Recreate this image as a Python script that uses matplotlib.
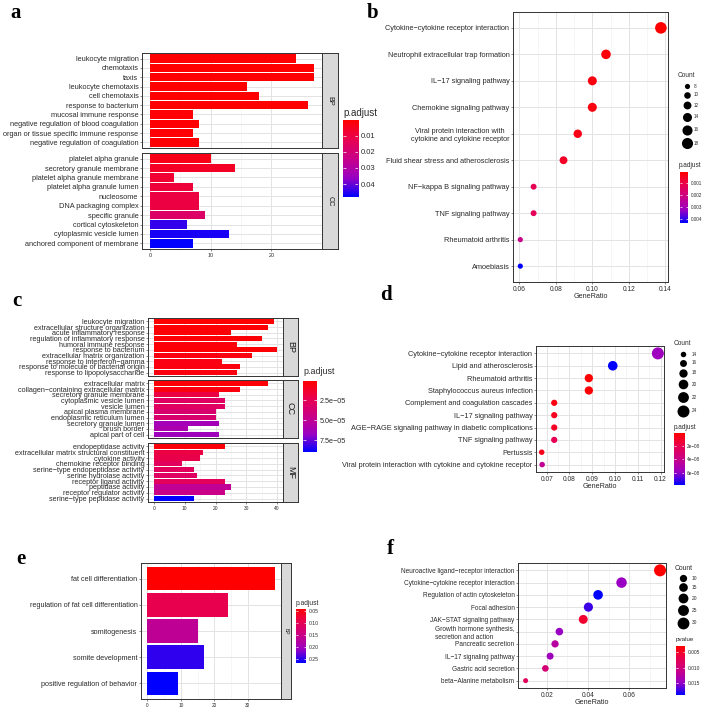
import numpy as np
import matplotlib
matplotlib.use('Agg')
import matplotlib.pyplot as plt
from matplotlib.colors import LinearSegmentedColormap, Normalize

W, H = 708, 712
plt.rcParams['font.family'] = ['Liberation Sans', 'DejaVu Sans']

# ---------------- data ----------------
# a: GO enrichment (BP / CC facets)
a_bp_terms = ['leukocyte migration', 'chemotaxis', 'taxis', 'leukocyte chemotaxis',
              'cell chemotaxis', 'response to bacterium', 'mucosal immune response',
              'negative regulation of blood coagulation',
              'organ or tissue specific immune response',
              'negative regulation of coagulation']
a_bp_count = [24, 27, 27, 16, 18, 26, 7, 8, 7, 8]
a_bp_padj = [0.0004, 0.0003, 0.0003, 0.0006, 0.0005, 0.0004, 0.0012, 0.0010, 0.0012, 0.0010]
a_cc_terms = ['platelet alpha granule', 'secretory granule membrane',
              'platelet alpha granule membrane', 'platelet alpha granule lumen',
              'nucleosome', 'DNA packaging complex', 'specific granule',
              'cortical cytoskeleton', 'cytoplasmic vesicle lumen',
              'anchored component of membrane']
a_cc_count = [10, 14, 4, 7, 8, 8, 9, 6, 13, 7]
a_cc_padj = [0.004, 0.006, 0.008, 0.009, 0.010, 0.010, 0.017, 0.044, 0.046, 0.048]

# b: KEGG dot plot
b_terms = ['Cytokine\u2212cytokine receptor interaction', 'Neutrophil extracellular trap formation',
           'IL\u221217 signaling pathway', 'Chemokine signaling pathway',
           'Viral protein interaction with\ncytokine and cytokine receptor',
           'Fluid shear stress and atherosclerosis', 'NF\u2212kappa B signaling pathway',
           'TNF signaling pathway', 'Rheumatoid arthritis', 'Amoebiasis']
b_ratio = [0.1376, 0.1075, 0.1000, 0.1000, 0.0920, 0.0842, 0.0678, 0.0678, 0.0605, 0.0605]
b_count = [19, 15, 14, 14, 13, 12, 9, 9, 8, 8]
b_padj = [0.0001, 0.0002, 0.0003, 0.0003, 0.0004, 0.0006, 0.0012, 0.0013, 0.0022, 0.0043]

# c: GO enrichment (BP / CC / MF facets)
c_bp_terms = ['leukocyte migration', 'extracellular structure organization',
              'acute inflammatory response', 'regulation of inflammatory response',
              'humoral immune response', 'response to bacterium',
              'extracellular matrix organization', 'response to interferon\u2212gamma',
              'response to molecule of bacterial origin', 'response to lipopolysaccharide']
c_bp_count = [39, 37, 25, 35, 27, 40, 32, 22, 28, 27]
c_bp_padj = [0.1e-5, 0.2e-5, 0.3e-5, 0.3e-5, 0.4e-5, 0.2e-5, 0.5e-5, 0.6e-5, 0.5e-5, 0.5e-5]
c_cc_terms = ['extracellular matrix', 'collagen\u2212containing extracellular matrix',
              'secretory granule membrane', 'cytoplasmic vesicle lumen', 'vesicle lumen',
              'apical plasma membrane', 'endoplasmic reticulum lumen',
              'secretory granule lumen', 'brush border', 'apical part of cell']
c_cc_count = [37, 28, 21, 23, 23, 20, 20, 21, 11, 21]
c_cc_padj = [0.3e-5, 0.5e-5, 2.0e-5, 3.0e-5, 3.0e-5, 3.5e-5, 3.5e-5, 6.3e-5, 6.0e-5, 6.5e-5]
c_mf_terms = ['endopeptidase activity', 'extracellular matrix structural constituent',
              'cytokine activity', 'chemokine receptor binding',
              'serine\u2212type endopeptidase activity', 'serine hydrolase activity',
              'receptor ligand activity', 'peptidase activity',
              'receptor regulator activity', 'serine\u2212type peptidase activity']
c_mf_count = [23, 16, 15, 9, 13, 14, 23, 25, 23, 13]
c_mf_padj = [0.4e-5, 2.0e-5, 2.2e-5, 2.8e-5, 2.8e-5, 3.0e-5, 2.8e-5, 5.0e-5, 4.5e-5, 9.0e-5]

# d: KEGG dot plot
d_terms = ['Cytokine\u2212cytokine receptor interaction', 'Lipid and atherosclerosis',
           'Rheumatoid arthritis', 'Staphylococcus aureus infection',
           'Complement and coagulation cascades', 'IL\u221217 signaling pathway',
           'AGE\u2212RAGE signaling pathway in diabetic complications',
           'TNF signaling pathway', 'Pertussis',
           'Viral protein interaction with cytokine and cytokine receptor']
d_ratio = [0.1188, 0.0990, 0.0885, 0.0885, 0.0733, 0.0733, 0.0733, 0.0733, 0.0678, 0.0680]
d_count = [24, 20, 18, 18, 15, 15, 15, 15, 14, 14]
d_padj = [5.7e-8, 7.8e-8, 0.1e-8, 0.2e-8, 0.5e-8, 0.8e-8, 1.0e-8, 2.2e-8, 0.7e-8, 4.3e-8]

# e: GO enrichment (BP only)
e_terms = ['fat cell differentiation', 'regulation of fat cell differentiation',
           'somitogenesis', 'somite development', 'positive regulation of behavior']
e_count = [38, 24, 15, 17, 9]
e_padj = [0.042, 0.098, 0.166, 0.250, 0.267]

# f: KEGG dot plot (pvalue)
f_terms = ['Neuroactive ligand\u2212receptor interaction', 'Cytokine\u2212cytokine receptor interaction',
           'Regulation of actin cytoskeleton', 'Focal adhesion', 'JAK\u2212STAT signaling pathway',
           'Growth hormone synthesis,\nsecretion and action', 'Pancreatic secretion',
           'IL\u221217 signaling pathway', 'Gastric acid secretion', 'beta\u2212Alanine metabolism']
f_ratio = [0.0750, 0.0563, 0.0449, 0.0402, 0.0377, 0.0261, 0.0240, 0.0216, 0.0193, 0.0097]
f_count = [31, 23, 19, 17, 16, 11, 10, 9, 8, 4]
f_pval = [0.0030, 0.0149, 0.0189, 0.0173, 0.0054, 0.0149, 0.0125, 0.0144, 0.0094, 0.0078]

# ---------------- helpers ----------------
cmap = LinearSegmentedColormap.from_list('r2b', ['#FF0000', '#E80050', '#C90088', '#9A00C3', '#0000FF'])
TXT = '#2b2b2b'
fig = plt.figure(figsize=(W / 100, H / 100), dpi=100)


def px_axes(l, t, r, b):
    return fig.add_axes([l / W, 1 - b / H, (r - l) / W, (b - t) / H])


def frame(ax, tfs):
    for s in ax.spines.values():
        s.set_color('#333333')
        s.set_linewidth(0.7)
    ax.tick_params(length=1.6, width=0.4, color='#333333', pad=1, labelsize=tfs, labelcolor=TXT)


def grid(ax, xticks, minor):
    ax.set_xticks(xticks)
    ax.set_xticks(minor, minor=True)
    ax.tick_params(which='minor', length=0)
    ax.grid(True, which='major', color='#E3E3E3', lw=0.7)
    ax.grid(True, which='minor', axis='x', color='#EFEFEF', lw=0.4)
    ax.set_axisbelow(True)


def bar_facet(box, terms, counts, pvals, norm, xlim, xticks, fs, xfs, show_x):
    ax = px_axes(*box)
    y = np.arange(len(terms))
    ax.barh(y, counts, height=0.9, color=cmap(norm(np.array(pvals))), zorder=2)
    ax.set_ylim(len(terms) - 0.4, -0.6)
    ax.set_xlim(*xlim)
    ax.set_yticks(y, terms)
    grid(ax, xticks, np.array(xticks[:-1]) + (xticks[1] - xticks[0]) / 2)
    frame(ax, xfs)
    ax.tick_params(axis='y', labelsize=fs)
    if not show_x:
        ax.tick_params(axis='x', labelbottom=False, length=0)
    return ax


def strip(box, label, fs):
    ax = px_axes(*box)
    ax.set_facecolor('#D9D9D9')
    ax.set_xticks([])
    ax.set_yticks([])
    frame(ax, fs)
    ax.text(0.5, 0.5, label, rotation=-90, ha='center', va='center', fontsize=fs,
            color='#1A1A1A', transform=ax.transAxes)


def colorbar(box, pvals, ticks, labels, fs):
    vmin, vmax = min(pvals), max(pvals)
    ax = px_axes(*box)
    grad = np.linspace(vmin, vmax, 256)[:, None]
    ax.imshow(grad, aspect='auto', cmap=cmap, norm=Normalize(vmin, vmax), extent=[0, 1, vmax, vmin])
    ax.set_xlim(0, 1)
    ax.set_ylim(vmax, vmin)
    ax.set_xticks([])
    ax.set_yticks(ticks, labels)
    ax.yaxis.tick_right()
    ax.tick_params(length=0, labelsize=fs, pad=2, labelcolor=TXT)
    ax.hlines(ticks, 0, 0.2, color='white', lw=0.5)
    ax.hlines(ticks, 0.8, 1, color='white', lw=0.5)
    for s in ax.spines.values():
        s.set_visible(False)


def diam(c, cref, dref):
    # ggplot-like area scale: diameter linear in sqrt(count)
    c = np.sqrt(np.asarray(c, float))
    lo, hi = np.sqrt(cref[0]), np.sqrt(cref[1])
    return dref[0] + (c - lo) / (hi - lo) * (dref[1] - dref[0])


def dot_panel(box, terms, ratio, counts, pvals, xlim, xticks, xlabels, minor, cref, dref, fs, xfs):
    ax = px_axes(*box)
    y = np.arange(len(terms))
    norm = Normalize(min(pvals), max(pvals))
    d = diam(counts, cref, dref)
    ax.scatter(ratio, y, s=(d * 0.72) ** 2, c=cmap(norm(np.array(pvals))), linewidths=0, zorder=3)
    ax.set_ylim(len(terms) - 0.4, -0.6)
    ax.set_xlim(*xlim)
    ax.set_yticks(y, terms)
    grid(ax, xticks, minor)
    ax.set_xticks(xticks, xlabels)
    frame(ax, xfs)
    ax.tick_params(axis='y', labelsize=fs)
    ax.set_xlabel('GeneRatio', fontsize=xfs + 0.4, color=TXT, labelpad=0.5)
    return ax


def size_legend(ov, x, y0, values, cref, dref, gap, lx, fs):
    d = diam(values, cref, dref)
    y = y0
    for i, v in enumerate(values):
        ov.scatter([x], [y], s=(d[i] * 0.72) ** 2, color='black', linewidths=0)
        ov.text(lx, y, str(v), fontsize=fs, va='center', color=TXT)
        if i < len(values) - 1:
            y += (d[i] + d[i + 1]) / 2 + gap


ov = fig.add_axes([0, 0, 1, 1])
ov.set_xlim(0, W)
ov.set_ylim(H, 0)
ov.axis('off')
ov.set_zorder(5)

# ---------------- panel a ----------------
norm_a = Normalize(min(a_bp_padj + a_cc_padj), max(a_bp_padj + a_cc_padj))
xl_a = (-1.35, 28.35)
bar_facet((142, 53, 322, 148), a_bp_terms, a_bp_count, a_bp_padj, norm_a, xl_a, [0, 10, 20], 5.3, 3.9, False)
bar_facet((142, 153, 322, 249), a_cc_terms, a_cc_count, a_cc_padj, norm_a, xl_a, [0, 10, 20], 5.3, 3.9, True)
strip((322, 53, 338, 148), 'BP', 5.2)
strip((322, 153, 338, 249), 'CC', 5.2)
colorbar((343, 120, 358, 197), a_bp_padj + a_cc_padj, [0.01, 0.02, 0.03, 0.04],
         ['0.01', '0.02', '0.03', '0.04'], 5.5)
ov.text(343, 116, 'p.adjust', fontsize=7, color=TXT, va='baseline')

# ---------------- panel b ----------------
ax_b = dot_panel((513, 12, 668, 282), b_terms, b_ratio, b_count, b_padj, (0.0565, 0.1415),
                 [0.06, 0.08, 0.10, 0.12, 0.14], ['0.06', '0.08', '0.10', '0.12', '0.14'],
                 [0.07, 0.09, 0.11, 0.13], (8, 19), (5.2, 11.6), 5.3, 4.8)
for lbl in ax_b.get_yticklabels():
    lbl.set_multialignment('center')
colorbar((680, 172, 688, 223), b_padj, [0.001, 0.002, 0.003, 0.004],
         ['0.001', '0.002', '0.003', '0.004'], 3.3)
ov.text(679, 167, 'p.adjust', fontsize=4.7, color=TXT, va='baseline')
ov.text(678, 77, 'Count', fontsize=4.7, color=TXT, va='baseline')
size_legend(ov, 687, 86, [8, 10, 12, 14, 16, 18], (8, 19), (5.2, 11.6), 3.1, 694, 3.3)

# ---------------- panel c ----------------
all_c = c_bp_padj + c_cc_padj + c_mf_padj
norm_c = Normalize(min(all_c), max(all_c))
xl_c = (-2, 42)
xt_c = [0, 10, 20, 30, 40]
bar_facet((148, 318, 283, 376), c_bp_terms, c_bp_count, c_bp_padj, norm_c, xl_c, xt_c, 5.2, 3.5, False)
bar_facet((148, 380, 283, 438), c_cc_terms, c_cc_count, c_cc_padj, norm_c, xl_c, xt_c, 5.2, 3.5, False)
bar_facet((148, 443, 283, 502), c_mf_terms, c_mf_count, c_mf_padj, norm_c, xl_c, xt_c, 5.2, 3.5, True)
strip((283, 318, 298, 376), 'BP', 6.5)
strip((283, 380, 298, 438), 'CC', 6.5)
strip((283, 443, 298, 502), 'MF', 6.5)
colorbar((303, 381, 317, 452), all_c, [2.5e-5, 5.0e-5, 7.5e-5], ['2.5e\u221205', '5.0e\u221205', '7.5e\u221205'], 5.2)
ov.text(303, 374, 'p.adjust', fontsize=6.4, color=TXT, va='baseline')

# ---------------- panel d ----------------
dot_panel((536, 346, 664, 472), d_terms, d_ratio, d_count, d_padj, (0.0653, 0.1215),
          [0.07, 0.08, 0.09, 0.10, 0.11, 0.12], ['0.07', '0.08', '0.09', '0.10', '0.11', '0.12'],
          [0.075, 0.085, 0.095, 0.105, 0.115], (14, 24), (5.5, 12.0), 5.3, 4.8)
colorbar((674, 433, 684, 485), d_padj, [2e-8, 4e-8, 6e-8], ['2e\u221208', '4e\u221208', '6e\u221208'], 3.3)
ov.text(674, 429, 'p.adjust', fontsize=4.7, color=TXT, va='baseline')
ov.text(674, 345, 'Count', fontsize=4.7, color=TXT, va='baseline')
size_legend(ov, 683, 354, [14, 16, 18, 20, 22, 24], (14, 24), (5.5, 12.0), 2.5, 692, 3.3)

# ---------------- panel e ----------------
norm_e = Normalize(min(e_padj), max(e_padj))
bar_facet((141, 563, 281, 699), e_terms, e_count, e_padj, norm_e, (-1.9, 39.9), [0, 10, 20, 30], 5.2, 3.4, True)
strip((281, 563, 291, 699), 'BP', 3.6)
colorbar((296, 609, 306, 663), e_padj, [0.05, 0.10, 0.15, 0.20, 0.25],
         ['0.05', '0.10', '0.15', '0.20', '0.25'], 3.7)
ov.text(296, 605, 'p.adjust', fontsize=4.8, color=TXT, va='baseline')

# ---------------- panel f ----------------
ax_f = dot_panel((518, 563, 666, 688), f_terms, f_ratio, f_count, f_pval, (0.0060, 0.0779),
                 [0.02, 0.04, 0.06], ['0.02', '0.04', '0.06'], [0.01, 0.03, 0.05, 0.07],
                 (4, 31), (5.0, 12.0), 4.7, 4.8)
for lbl in ax_f.get_yticklabels():
    lbl.set_multialignment('left')
colorbar((676, 646, 685, 695), f_pval, [0.005, 0.010, 0.015], ['0.005', '0.010', '0.015'], 3.5)
ov.text(676, 641, 'pvalue', fontsize=4.5, color=TXT, va='baseline')
ov.text(675, 570, 'Count', fontsize=4.9, color=TXT, va='baseline')
size_legend(ov, 683, 578, [10, 15, 20, 25, 30], (4, 31), (5.0, 12.0), 1.5, 692, 3.5)

# ---------------- panel letters ----------------
for letter, x, y in [('a', 10, 18), ('b', 367, 18), ('c', 12, 306),
                     ('d', 380, 300), ('e', 16, 564), ('f', 387, 554)]:
    ov.text(x, y, letter, fontsize=15, fontweight='bold', family='Liberation Serif',
            va='baseline', color='black')

fig.savefig('out.png', dpi=100, facecolor='white')
